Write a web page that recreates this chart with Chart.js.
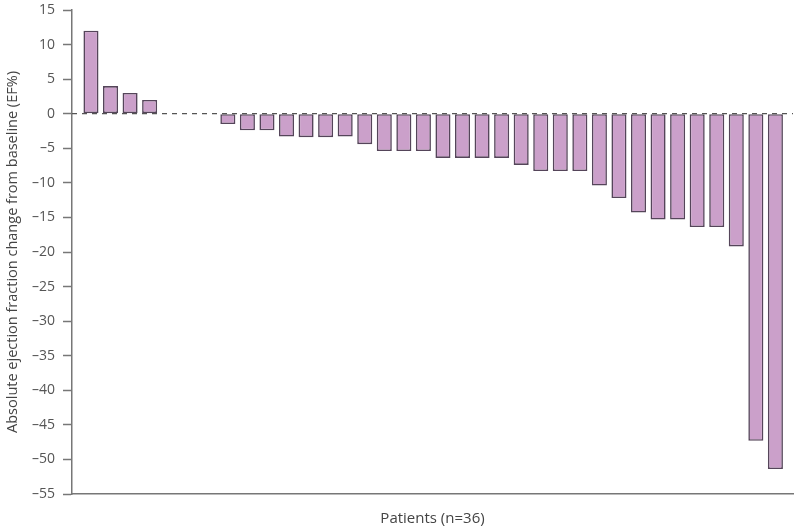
<!DOCTYPE html>
<html>
<head>
<meta charset="utf-8">
<script src="https://cdn.jsdelivr.net/npm/chart.js@4.4.1/dist/chart.umd.min.js"></script>
<style>
html,body{margin:0;padding:0;background:#fff;}
#wrap{width:800px;height:528px;position:relative;}
</style>
</head>
<body>
<div id="wrap"><canvas id="c" width="800" height="528"></canvas></div>
<script>
// Patient index (1..36) and absolute EF change
const patients = Array.from({length: 36}, (_, i) => i + 1);
const efChange = [12, 4, 3, 2, 0, 0, 0, -1.5, -2.4, -2.4, -3.3, -3.4, -3.4, -3.3, -4.4,
  -5.4, -5.4, -5.4, -6.4, -6.4, -6.4, -6.4, -7.4, -8.3, -8.3, -8.3, -10.4, -12.2,
  -14.3, -15.3, -15.3, -16.4, -16.4, -19.2, -47.3, -51.4];
const yTicks = [15, 10, 5, 0, -5, -10, -15, -20, -25, -30, -35, -40, -45, -50, -55];
const yTitle = 'Absolute ejection fraction change from baseline (EF%)';
const xTitle = 'Patients (n=36)';

const zeroLine = {
  id: 'zeroLine',
  afterDatasetsDraw(chart) {
    const {ctx, chartArea, scales} = chart;
    const y = scales.y.getPixelForValue(0);
    ctx.save();
    ctx.strokeStyle = '#555';
    ctx.lineWidth = 1.3;
    ctx.setLineDash([5, 5]);
    ctx.beginPath();
    ctx.moveTo(chartArea.left, y);
    ctx.lineTo(chartArea.right, y);
    ctx.stroke();
    ctx.restore();
  }
};

const fmt = v => v < 0 ? '\u2013' + Math.abs(v) : String(v);

new Chart(document.getElementById('c'), {
  type: 'bar',
  data: {
    datasets: [{
      data: patients.map((p, i) => ({x: p, y: efChange[i]})),
      backgroundColor: '#cba0ca',
      borderColor: '#55455a',
      borderWidth: 1.6,
      borderSkipped: false,
      barPercentage: 0.77,
      categoryPercentage: 1
    }]
  },
  options: {
    responsive: false,
    animation: false,
    devicePixelRatio: 1,
    layout: {padding: {left: 0, right: 7, top: 10, bottom: 0}},
    plugins: {legend: {display: false}, tooltip: {enabled: false}},
    scales: {
      x: {
        type: 'linear',
        min: 0.03,
        max: 36.9,
        offset: false,
        grid: {display: false},
        border: {display: true, color: '#777', width: 1.5},
        ticks: {display: false},
        title: {display: true, text: xTitle, color: '#444',
          font: {family: 'Open Sans', size: 15}, padding: {top: 10, bottom: 0}},
        afterFit(s) { s.height = 34; }
      },
      y: {
        min: -55,
        max: 15,
        afterBuildTicks(s) { s.ticks = yTicks.map(v => ({value: v})); },
        grid: {drawOnChartArea: false, drawTicks: true, tickLength: 9, color: '#777', tickWidth: 1.5},
        border: {display: true, color: '#777', width: 1.5},
        ticks: {color: '#555', padding: 8, font: {family: 'Open Sans', size: 14}, callback: fmt},
        title: {display: true, text: yTitle, color: '#444',
          font: {family: 'Open Sans', size: 14.5}, padding: {top: 4, bottom: 0}},
        afterFit(s) { s.width = 72; s.paddingTop = 0; s.paddingBottom = 0; }
      }
    }
  },
  plugins: [zeroLine]
});
</script>
</body>
</html>
